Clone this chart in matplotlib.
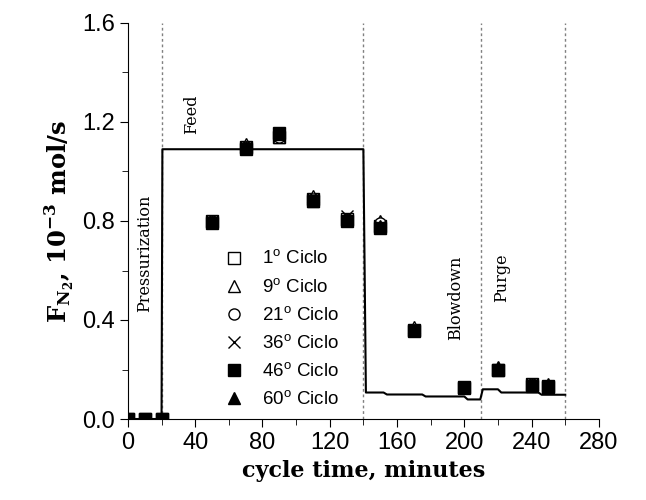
import matplotlib
matplotlib.use("Agg")
from matplotlib import pyplot as plt
from matplotlib.ticker import MultipleLocator

plt.rcParams['mathtext.fontset'] = 'custom'
plt.rcParams['mathtext.rm'] = 'DejaVu Serif:bold'
plt.rcParams['mathtext.bf'] = 'DejaVu Serif:bold'
plt.rcParams['mathtext.sf'] = 'Liberation Sans'

# sampled times (minutes)
t = [0, 10, 20, 50, 70, 90, 110, 130, 150, 170, 200, 220, 240, 250]
c1 = [0, 0, 0, 0.80, 1.10, 1.14, 0.89, 0.81, 0.78, 0.36, 0.13, 0.20, 0.14, 0.135]
c9 = [0, 0, 0, 0.80, 1.11, 1.14, 0.90, 0.81, 0.80, 0.37, 0.13, 0.21, 0.14, 0.14]
c21 = [0, 0, 0, 0.80, 1.10, 1.14, 0.89, 0.81, 0.79, 0.36, 0.13, 0.20, 0.14, 0.135]
c36 = [0, 0, 0, 0.80, 1.10, 1.15, 0.89, 0.82, 0.78, 0.36, 0.13, 0.20, 0.14, 0.13]
c46 = [0, 0, 0, 0.79, 1.09, 1.155, 0.88, 0.80, 0.77, 0.355, 0.125, 0.20, 0.135, 0.13]
c60 = [0, 0, 0, 0.80, 1.10, 1.15, 0.88, 0.81, 0.78, 0.36, 0.13, 0.205, 0.14, 0.135]

# simulated curve
sim_t = [0, 20, 20.5, 140, 141.5, 152, 154, 175, 177, 200, 202, 209.5, 211, 220, 222, 244, 246, 260]
sim_y = [0, 0, 1.09, 1.09, 0.107, 0.107, 0.099, 0.099, 0.091, 0.091, 0.079, 0.079,
         0.12, 0.12, 0.107, 0.107, 0.098, 0.098]

step_ends = [20, 140, 210, 260]
phases = [("Pressurization", 10, 0.67), ("Feed", 38, 1.23),
          ("Blowdown", 195, 0.49), ("Purge", 222, 0.57)]

fig = plt.figure(figsize=(6.46, 5), dpi=100)
ax = fig.add_axes([0.198, 0.162, 0.729, 0.792])

for s in step_ends:
    ax.axvline(s, color="grey", linestyle=(0, (2, 2)), linewidth=1)

ax.plot(sim_t, sim_y, color="black", linewidth=1.5)

ms = 8
ax.plot(t, c1, "s", mfc="white", mec="black", ms=ms, label=r"1$^{\mathsf{o}}$ Ciclo")
ax.plot(t, c9, "^", mfc="white", mec="black", ms=ms, label=r"9$^{\mathsf{o}}$ Ciclo")
ax.plot(t, c21, "o", mfc="white", mec="black", ms=ms, label=r"21$^{\mathsf{o}}$ Ciclo")
ax.plot(t, c36, "x", color="black", ms=ms, label=r"36$^{\mathsf{o}}$ Ciclo")
ax.plot(t, c46, "s", color="black", ms=ms, label=r"46$^{\mathsf{o}}$ Ciclo")
ax.plot(t, c60, "^", color="black", ms=ms, label=r"60$^{\mathsf{o}}$ Ciclo")

for name, x, y in phases:
    ax.text(x, y, name, rotation=90, ha="center", va="center",
            family="DejaVu Serif", fontsize=11.5)

ax.set_xlim(0, 280)
ax.set_ylim(0, 1.6)
ax.xaxis.set_major_locator(MultipleLocator(40))
ax.xaxis.set_minor_locator(MultipleLocator(20))
ax.yaxis.set_major_locator(MultipleLocator(0.4))
ax.yaxis.set_minor_locator(MultipleLocator(0.2))
ax.spines["top"].set_visible(False)
ax.spines["right"].set_visible(False)
ax.tick_params(which="major", length=6, labelsize=17)
ax.tick_params(which="minor", length=4)
for lab in ax.get_xticklabels() + ax.get_yticklabels():
    lab.set_family("Liberation Sans")

ax.set_xlabel("cycle time, minutes", family="DejaVu Serif", fontweight="bold", fontsize=16)
ax.set_ylabel(r"F$_{\mathrm{N_2}}$, 10$^{-3}$ mol/s", family="DejaVu Serif",
              fontweight="bold", fontsize=17.5)

leg = ax.legend(loc="upper left", bbox_to_anchor=(0.15, 0.47), frameon=False,
                prop={"family": "Liberation Sans", "size": 13.5}, labelspacing=0.5,
                handletextpad=0.5, numpoints=1)

fig.savefig("out.png", dpi=100)
